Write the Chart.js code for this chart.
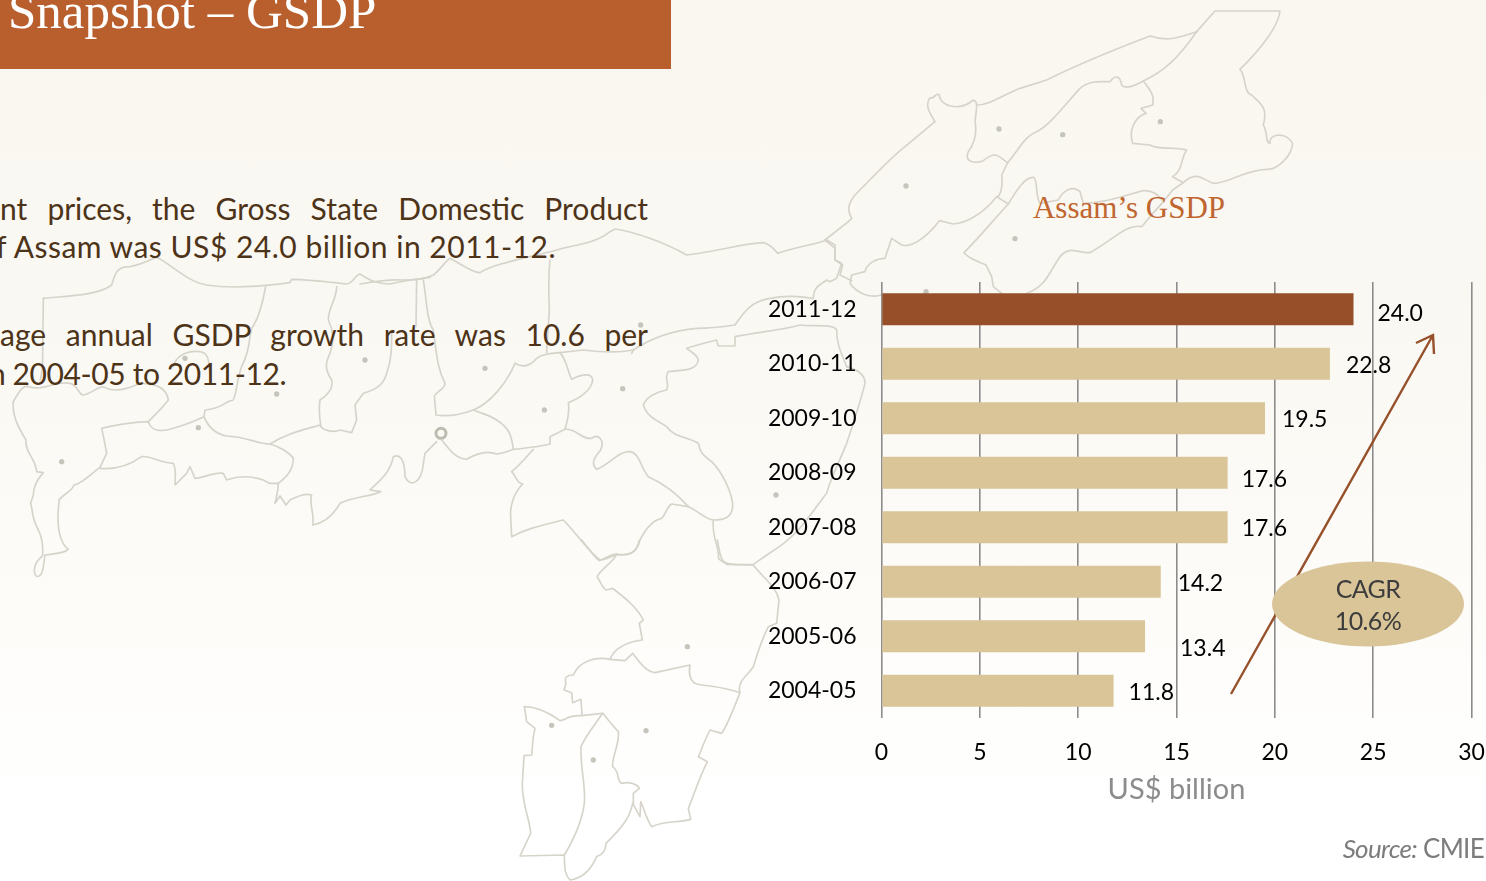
<!DOCTYPE html>
<html>
<head>
<meta charset="utf-8">
<title>Snapshot - GSDP</title>
<script src="https://cdn.jsdelivr.net/npm/chart.js@4"></script>
<style>
  html, body { margin: 0; padding: 0; }
  body {
    width: 1486px; height: 881px; overflow: hidden; position: relative;
    background: linear-gradient(180deg, #f9f7f0 0%, #faf8f2 35%, #fdfcf9 70%, #ffffff 92%);
  }
  #map, #overlay { position: absolute; left: 0; top: 0; }
  #map path { fill: none; stroke: #d6d4ca; stroke-width: 5; stroke-linejoin: round; stroke-linecap: round; }
  #map circle { fill: #c6c5bc; }
  #chart { position: absolute; left: 0; top: 0; }
  #header { position: absolute; left: 0; top: 0; width: 671px; height: 69px; background: #b85f2d; overflow: hidden; }
  #header span { position: absolute; left: 8px; top: -18px; font: 51px "Liberation Serif", serif; color: #fff; white-space: nowrap; }
  .line { position: absolute; left: 0; font: 400 30px Lato, sans-serif; color: #4d3318; white-space: nowrap; line-height: 36px; }
  .just { width: 648px; white-space: normal; text-align: justify; text-align-last: justify; }
  #chartTitle { position: absolute; left: 1000px; width: 258px; top: 190px; text-align: center; font: 31px "Liberation Serif", serif; color: #c0652f; }
  #cagr { position: absolute; left: 1272px; top: 572px; width: 192px; text-align: center; font: 25px/32px Lato, sans-serif; color: #3c3c3c; letter-spacing: -0.6px; }
  #source { position: absolute; right: 2px; top: 832px; font: 26px Lato, sans-serif; color: #7c7c7c; letter-spacing: -0.7px; }
</style>
</head>
<body>
<svg id="map" width="1486" height="881">
  <g transform="translate(0,220) scale(0.33333)">
    <path d="M130,235 C200,228 300,225 335,195 C345,160 350,140 390,140 C420,135 450,120 470,112 C510,130 560,185 620,195 C680,205 780,200 870,188 L875,178 C920,178 980,185 1040,192 C1060,190 1065,165 1080,162 C1100,175 1120,190 1170,192 C1210,182 1250,178 1290,172"/>
    <path d="M130,235 L128,400 C128,440 125,470 120,480"/>
    <path d="M40,545 C60,510 70,495 85,500 C130,515 170,480 210,490 C235,495 235,525 250,525 C280,520 300,490 320,505 C340,515 380,510 420,490 C460,490 500,500 505,540 C490,560 460,590 445,605"/>
    <path d="M40,545 C35,590 60,630 78,660 C75,700 105,710 110,755 L130,758 C110,780 100,800 100,825 L92,850 C100,880 95,895 115,930 C125,950 130,970 128,1005 C120,1020 105,1020 103,1050 C102,1075 125,1080 130,1040 L135,1005 C170,1000 195,1000 205,988 C170,960 170,900 178,838"/>
    <path d="M178,838 C200,815 215,815 222,795 C250,790 280,755 300,742 L320,700 C315,670 310,650 305,625 C350,615 400,605 445,605 C450,625 470,635 500,630 C540,620 580,605 612,590"/>
    <path d="M300,745 C350,750 390,735 425,710 C450,705 480,730 520,730 C530,750 525,775 525,795 L560,760 L570,740 L585,775 C610,775 640,755 670,760 L680,780 C720,765 760,770 790,780 L808,790 L835,790"/>
    <path d="M612,590 C620,610 635,640 680,648 C740,650 770,672 810,672 C840,680 870,700 880,715 C880,750 860,770 835,790 C835,810 830,830 825,850 L840,828 L858,855 L870,840 C900,825 920,820 935,825 C925,850 945,880 938,915 C970,910 1000,885 1020,850 C1060,830 1110,830 1142,815 L1110,810 C1140,780 1170,760 1180,710 C1200,700 1215,720 1215,770 C1230,805 1265,790 1270,730 L1275,700 L1310,665"/>
    <path d="M810,672 C860,640 910,630 960,615 C965,630 1000,640 1020,630 L1055,638 L1070,600 L1065,555 L1090,520 C1120,510 1150,500 1160,460 C1175,420 1175,380 1175,340"/>
    <path d="M1010,200 C1010,240 985,260 985,300 C1000,330 1005,360 990,400 C975,430 975,450 995,480 C1000,500 990,520 960,540 C955,570 960,600 962,615"/>
    <path d="M797,198 C790,240 780,290 755,325 L750,350 C745,400 730,430 725,440 C710,480 710,520 700,540 C670,545 670,565 615,570 L612,590"/>
    <path d="M520,440 C525,410 560,390 600,395 C630,400 625,430 630,460"/>
    <path d="M1250,178 L1248,320"/>
    <circle cx="555" cy="415" r="8"/><circle cx="830" cy="522" r="8"/><circle cx="1095" cy="420" r="8"/><circle cx="595" cy="623" r="8"/><circle cx="185" cy="725" r="8"/>
    <circle cx="1323" cy="640" r="15" style="fill:none;stroke:#bdbcb0;stroke-width:9"/>
  </g>
  <g transform="translate(400,220) scale(0.33333)">
    <path d="M-120,192 C-60,182 -30,178 0,180 C40,180 70,180 100,165 C120,150 140,120 150,115 C180,130 220,160 240,158 C280,130 400,110 470,90 C520,75 590,70 630,35 L645,27 C700,35 790,65 860,105 C950,95 1030,70 1090,68 C1115,75 1125,90 1133,100 C1190,80 1240,75 1280,60"/>
    <path d="M70,180 C80,240 80,300 100,330 C110,400 110,440 135,490 C135,510 105,515 103,530 L108,585 C140,590 180,585 220,570"/>
    <path d="M450,120 C445,170 445,210 448,270 C445,320 440,380 440,398"/>
    <path d="M345,430 C370,445 390,440 410,415 C430,400 460,400 480,398 C500,420 505,460 515,478 C540,465 575,455 578,480 C575,510 540,535 505,548 C510,580 500,610 495,628 L450,650 L450,672 C420,680 370,685 340,688 C335,650 330,625 290,600 C260,580 240,580 220,570"/>
    <path d="M345,430 C320,490 270,550 220,570"/>
    <path d="M125,660 C150,690 165,715 200,718 C230,700 260,690 290,702 C310,700 330,692 340,688"/>
    <path d="M495,628 C530,625 545,660 575,655 C595,640 615,660 602,690 C585,710 570,730 590,748 C620,740 660,690 690,695 C720,700 720,740 745,770 C790,790 830,820 865,860 C890,870 920,900 940,900 C970,900 1000,895 998,850 C990,800 960,750 935,725 C900,700 900,690 895,670 C860,650 820,650 800,620 C770,600 740,590 730,555 C740,530 770,515 800,510 C810,490 790,470 805,455 C840,450 890,455 895,420 C890,400 870,395 860,385 C890,375 930,365 950,360 L955,378 L1005,378 L1005,350 C1080,335 1150,330 1200,315 C1240,320 1300,310 1310,330 C1310,370 1320,390 1340,440"/>
    <path d="M1340,440 C1370,450 1395,460 1395,490 C1380,550 1360,610 1340,670 C1320,720 1290,780 1280,820 C1240,870 1200,940 1130,985 L1060,1033 C1000,1035 975,1035 955,1015 C960,980 935,960 940,900"/>
    <path d="M695,400 L700,390 C650,400 590,395 550,390 L480,398"/>
    <path d="M700,390 C760,350 830,330 890,325 C920,325 970,320 1005,315 C1030,280 1050,245 1110,235 C1160,225 1200,230 1240,235"/>
    <path d="M1240,235 C1240,200 1260,195 1280,180 L1290,185 L1310,175 L1325,130 L1305,120 L1305,75 L1280,60"/>
    <path d="M335,755 C350,770 350,790 368,792 C340,820 330,860 332,890 L335,950 C380,925 430,915 490,900 C530,940 560,990 600,1020 C620,1020 640,1005 650,1005 C690,1005 710,1000 720,960 C740,920 760,900 785,895 C800,880 800,860 815,852 L865,860"/>
    <path d="M335,755 C360,735 380,710 400,688"/>
    <circle cx="255" cy="445" r="8"/><circle cx="433" cy="570" r="8"/><circle cx="668" cy="506" r="8"/><circle cx="722" cy="315" r="8"/><circle cx="1128" cy="825" r="8"/>
  </g>
  <g transform="translate(480,540) scale(0.33333)">
    <path d="M305,0 C330,30 345,55 358,62 C380,55 395,40 410,42 C440,48 470,45 478,0"/>
    <path d="M410,42 C400,70 355,90 352,112 C365,130 370,150 380,150 L398,145 C430,170 470,200 490,240 L478,250 L487,300 C450,305 405,320 390,358 C350,350 300,360 280,405 C265,405 250,410 258,430 L252,450 L275,458 L278,488 L303,478 L306,525"/>
    <path d="M390,358 L435,362 L458,340 C480,370 500,395 525,398 L630,375 C625,400 630,425 650,432 C690,440 730,440 780,458"/>
    <path d="M820,75 L740,73 C720,60 720,40 712,0"/>
    <path d="M820,75 C850,115 890,140 897,180 L890,250 L865,260 C840,310 830,350 820,380 C800,410 770,425 780,458 C760,510 740,560 725,580 L690,570 C680,590 670,610 660,640 L655,650 L682,665 C660,710 650,740 635,780 L625,805 L632,838 C590,850 560,840 515,860 C500,840 490,800 482,785 L480,830 L458,790 C450,830 430,860 378,910 C378,935 365,945 350,950 C335,985 310,1015 270,1020 C250,1000 255,975 253,945 L120,948 L152,880 C150,840 125,790 127,730 L132,647 L155,645 L160,590 L165,565 L140,545 L133,500 C170,500 210,520 240,542 C260,540 260,525 305,527 L368,520 C385,540 400,560 415,575 C420,610 395,650 398,680 C420,695 410,725 425,730 C445,725 470,730 478,745 L460,760 L460,790"/>
    <path d="M368,520 C340,560 315,590 303,620 C300,680 318,740 313,790 C305,850 280,900 253,945"/>
    <circle cx="215" cy="556" r="8"/><circle cx="340" cy="660" r="8"/><circle cx="498" cy="572" r="8"/><circle cx="622" cy="320" r="8"/>
  </g>
  <g transform="translate(820,0) scale(0.33333)">
    <path d="M15,720 L85,665 L95,655 C80,630 85,610 105,585 C150,540 210,475 255,440 L345,365 C330,340 315,320 328,295 C350,295 345,275 358,285 C360,320 420,335 460,300 C475,305 470,320 465,365 C470,390 470,420 445,455 C430,490 470,490 490,482 C530,450 535,470 563,488 L545,525 C550,560 540,590 530,590 C490,640 440,670 400,672 L358,662 C330,700 280,745 245,735 L215,715 L195,775 C170,775 140,790 135,815 L95,825 L90,850 C110,880 150,895 185,885"/>
    <path d="M15,720 L45,745 L45,780 L68,795 L60,825 L95,842"/>
    <path d="M470,315 C510,315 550,285 600,265 L680,240 C780,190 880,150 990,108 C1040,125 1070,115 1130,95 L1185,33 L1380,33 C1375,80 1320,150 1260,208 C1280,230 1270,280 1295,285 C1320,310 1345,320 1330,375 C1345,400 1335,430 1350,430 C1345,400 1400,395 1418,430 C1415,470 1370,510 1340,508 C1270,510 1230,550 1180,550 C1150,540 1130,510 1090,548 L1058,530 C1090,510 1080,480 1100,450 C1060,440 1010,450 990,435 L938,430 C925,390 945,350 978,340 L963,325 L998,315 C1005,280 985,265 970,243"/>
    <path d="M1130,95 C1070,180 1030,215 970,243 C950,255 915,270 905,255 C900,225 885,225 870,245 C840,245 810,240 780,265 C730,320 690,375 650,395 C610,410 590,460 563,488"/>
    <path d="M530,590 L565,612"/>
    <path d="M565,612 C590,570 615,530 640,532 C655,540 645,590 660,610 L715,600 C730,570 760,555 780,575 L790,610 C850,610 900,590 970,572 C1000,570 1020,590 1030,605 L1058,570 L1090,548"/>
    <path d="M1030,605 L990,650 L965,680 C920,670 880,720 810,758 C770,760 750,735 720,770 C690,810 680,860 620,880"/>
    <path d="M565,612 C520,660 480,710 432,758 C450,780 480,785 498,795 L515,830 L520,860 L545,880"/>
    <circle cx="537" cy="387" r="8"/><circle cx="728" cy="404" r="8"/><circle cx="1021" cy="365" r="8"/><circle cx="258" cy="558" r="8"/><circle cx="585" cy="716" r="8"/><circle cx="318" cy="875" r="8"/>
  </g>
</svg>

<div id="header"><span>Snapshot – GSDP</span></div>
<div class="line just" style="top:190px">nt prices, the Gross State Domestic Product</div>
<div class="line" style="left:-4px;top:228px;letter-spacing:0.5px">f Assam was US$ 24.0 billion in 2011-12.</div>
<div class="line just" style="top:316px">age annual GSDP growth rate was 10.6 per</div>
<div class="line" style="left:-11px;top:355px;letter-spacing:-0.4px">n 2004-05 to 2011-12.</div>
<div id="chartTitle">Assam’s GSDP</div>

<canvas id="chart" width="1486" height="881"></canvas>

<svg id="overlay" width="1486" height="881">
  <path d="M1231,694 L1433,335 M1416,343 L1433,335 L1434,354" fill="none" stroke="#96502a" stroke-width="2.4"/>
  <ellipse cx="1368" cy="604" rx="96" ry="42.5" fill="#d9c598"/>
</svg>
<div id="cagr">CAGR<br>10.6%</div>
<div id="source"><i>Source:</i> CMIE</div>

<script>
const years = ["2011-12", "2010-11", "2009-10", "2008-09", "2007-08", "2006-07", "2005-06", "2004-05"];
const gsdp = [24.0, 22.8, 19.5, 17.6, 17.6, 14.2, 13.4, 11.8];
const xTicks = [0, 5, 10, 15, 20, 25, 30];

const barColors = ["#964f28", "#d9c598", "#d9c598", "#d9c598", "#d9c598", "#d9c598", "#d9c598", "#d9c598"];
// value labels sit a bit unevenly in the original
const labelNudgeX = [24, 16, 17, 14, 14, 17, 35, 15];
const labelNudgeY = [4, 2, 1, 7, 1, 2, 12, 2];

const axisFont = { family: "Lato, sans-serif", size: 23 };

const valueLabels = {
  id: "valueLabels",
  afterDatasetsDraw(chart) {
    const ctx = chart.ctx;
    ctx.save();
    ctx.font = "23px Lato, sans-serif";
    ctx.fillStyle = "#000";
    ctx.textBaseline = "middle";
    chart.getDatasetMeta(0).data.forEach((bar, i) => {
      ctx.fillText(gsdp[i].toFixed(1), bar.x + labelNudgeX[i], bar.y + labelNudgeY[i]);
    });
    ctx.restore();
  },
};

new Chart(document.getElementById("chart"), {
  type: "bar",
  data: {
    labels: years,
    datasets: [{ data: gsdp, backgroundColor: barColors, categoryPercentage: 1, barPercentage: 0.585 }],
  },
  options: {
    indexAxis: "y",
    responsive: false,
    animation: false,
    layout: { padding: { top: 282, right: 14.5, left: 0, bottom: 0 } },
    plugins: { legend: { display: false }, tooltip: { enabled: false } },
    scales: {
      x: {
        min: 0,
        max: 30,
        afterBuildTicks(axis) { axis.ticks = xTicks.map((v) => ({ value: v })); },
        afterFit(axis) { axis.height = 163; axis.paddingRight = 0; axis.paddingLeft = 0; },
        grid: { color: "#8c8c8c", lineWidth: 1.6, drawTicks: false },
        border: { display: false },
        ticks: { color: "#000", font: axisFont, padding: 21, maxRotation: 0 },
        title: {
          display: true,
          text: "US$ billion",
          color: "#8c8c8c",
          font: { family: "Lato, sans-serif", size: 29 },
          padding: { top: 0, bottom: 74 },
        },
      },
      y: {
        afterFit(axis) { axis.width = 881.5; },
        grid: { display: false, drawTicks: false },
        border: { display: false },
        ticks: { color: "#000", font: axisFont, padding: 25 },
      },
    },
  },
  plugins: [valueLabels],
});
</script>
</body>
</html>
